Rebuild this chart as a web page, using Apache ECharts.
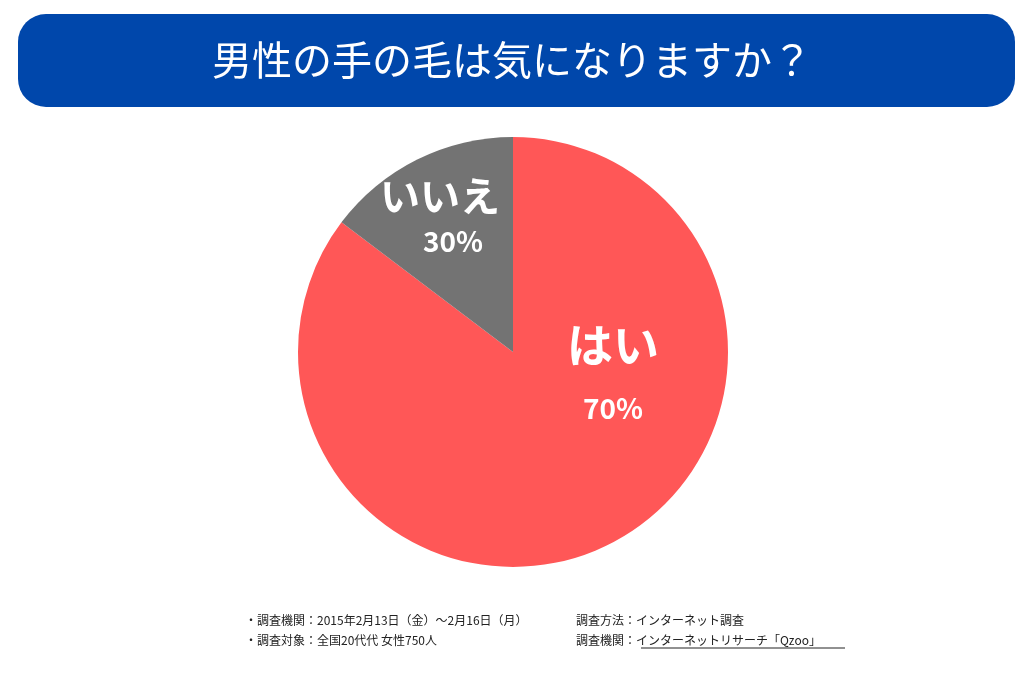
<!DOCTYPE html>
<html><head><meta charset="utf-8">
<script src="https://cdn.jsdelivr.net/npm/echarts@6/dist/echarts.min.js"></script>
<style>html,body{margin:0;padding:0;background:#fff}#c{width:1024px;height:683px}</style>
</head><body><div id="c"></div>
<script>
const categories = ["はい", "いいえ"];
const sliceValues = [85.3, 14.7];
const percentLabels = ["70%", "30%"];
const colors = ["#ff5757", "#737373"];
const title = "男性の手の毛は気になりますか？";
const notes = [
  ["・調査機関：2015年2月13日（金）〜2月16日（月）", 245, 620],
  ["・調査対象：全国20代代 女性750人", 245, 640],
  ["調査方法：インターネット調査", 576, 620],
  ["調査機関：インターネットリサーチ「Qzoo」", 576, 640]
];
const font = '"Noto Sans CJK JP", "Noto Sans", sans-serif';
const chart = echarts.init(document.getElementById('c'));
const g = [
  {type:'rect', shape:{x:18,y:14,width:997,height:93,r:28}, style:{fill:'#0047ab'}},
  {type:'text', x:512, y:60, style:{text:title, fill:'#fff', font:'400 40px '+font, textAlign:'center', textVerticalAlign:'middle'}},
  {type:'text', x:613, y:345, z:10, style:{text:categories[0], fill:'#fff', font:'700 46px '+font, textAlign:'center', textVerticalAlign:'middle'}},
  {type:'text', x:613, y:408, z:10, style:{text:percentLabels[0], fill:'#fff', font:'700 28px '+font, textAlign:'center', textVerticalAlign:'middle'}},
  {type:'text', x:440, y:196, z:10, style:{text:categories[1], fill:'#fff', font:'700 40px '+font, textAlign:'center', textVerticalAlign:'middle'}},
  {type:'text', x:453, y:241, z:10, style:{text:percentLabels[1], fill:'#fff', font:'700 28px '+font, textAlign:'center', textVerticalAlign:'middle'}},
  {type:'line', shape:{x1:641,y1:648,x2:845,y2:648}, style:{stroke:'#222',lineWidth:1}}
];
notes.forEach(n => g.push({type:'text', x:n[1], y:n[2], style:{text:n[0], fill:'#222', font:'12px '+font, textVerticalAlign:'middle'}}));
chart.setOption({
  animation:false,
  graphic:{elements:g},
  series:[{type:'pie', center:[513,352], radius:[0,215], startAngle:90, clockwise:true,
    label:{show:false}, labelLine:{show:false}, itemStyle:{borderWidth:0},
    data:categories.map((c,i)=>({name:c, value:sliceValues[i], itemStyle:{color:colors[i]}}))}]
});
</script></body></html>
